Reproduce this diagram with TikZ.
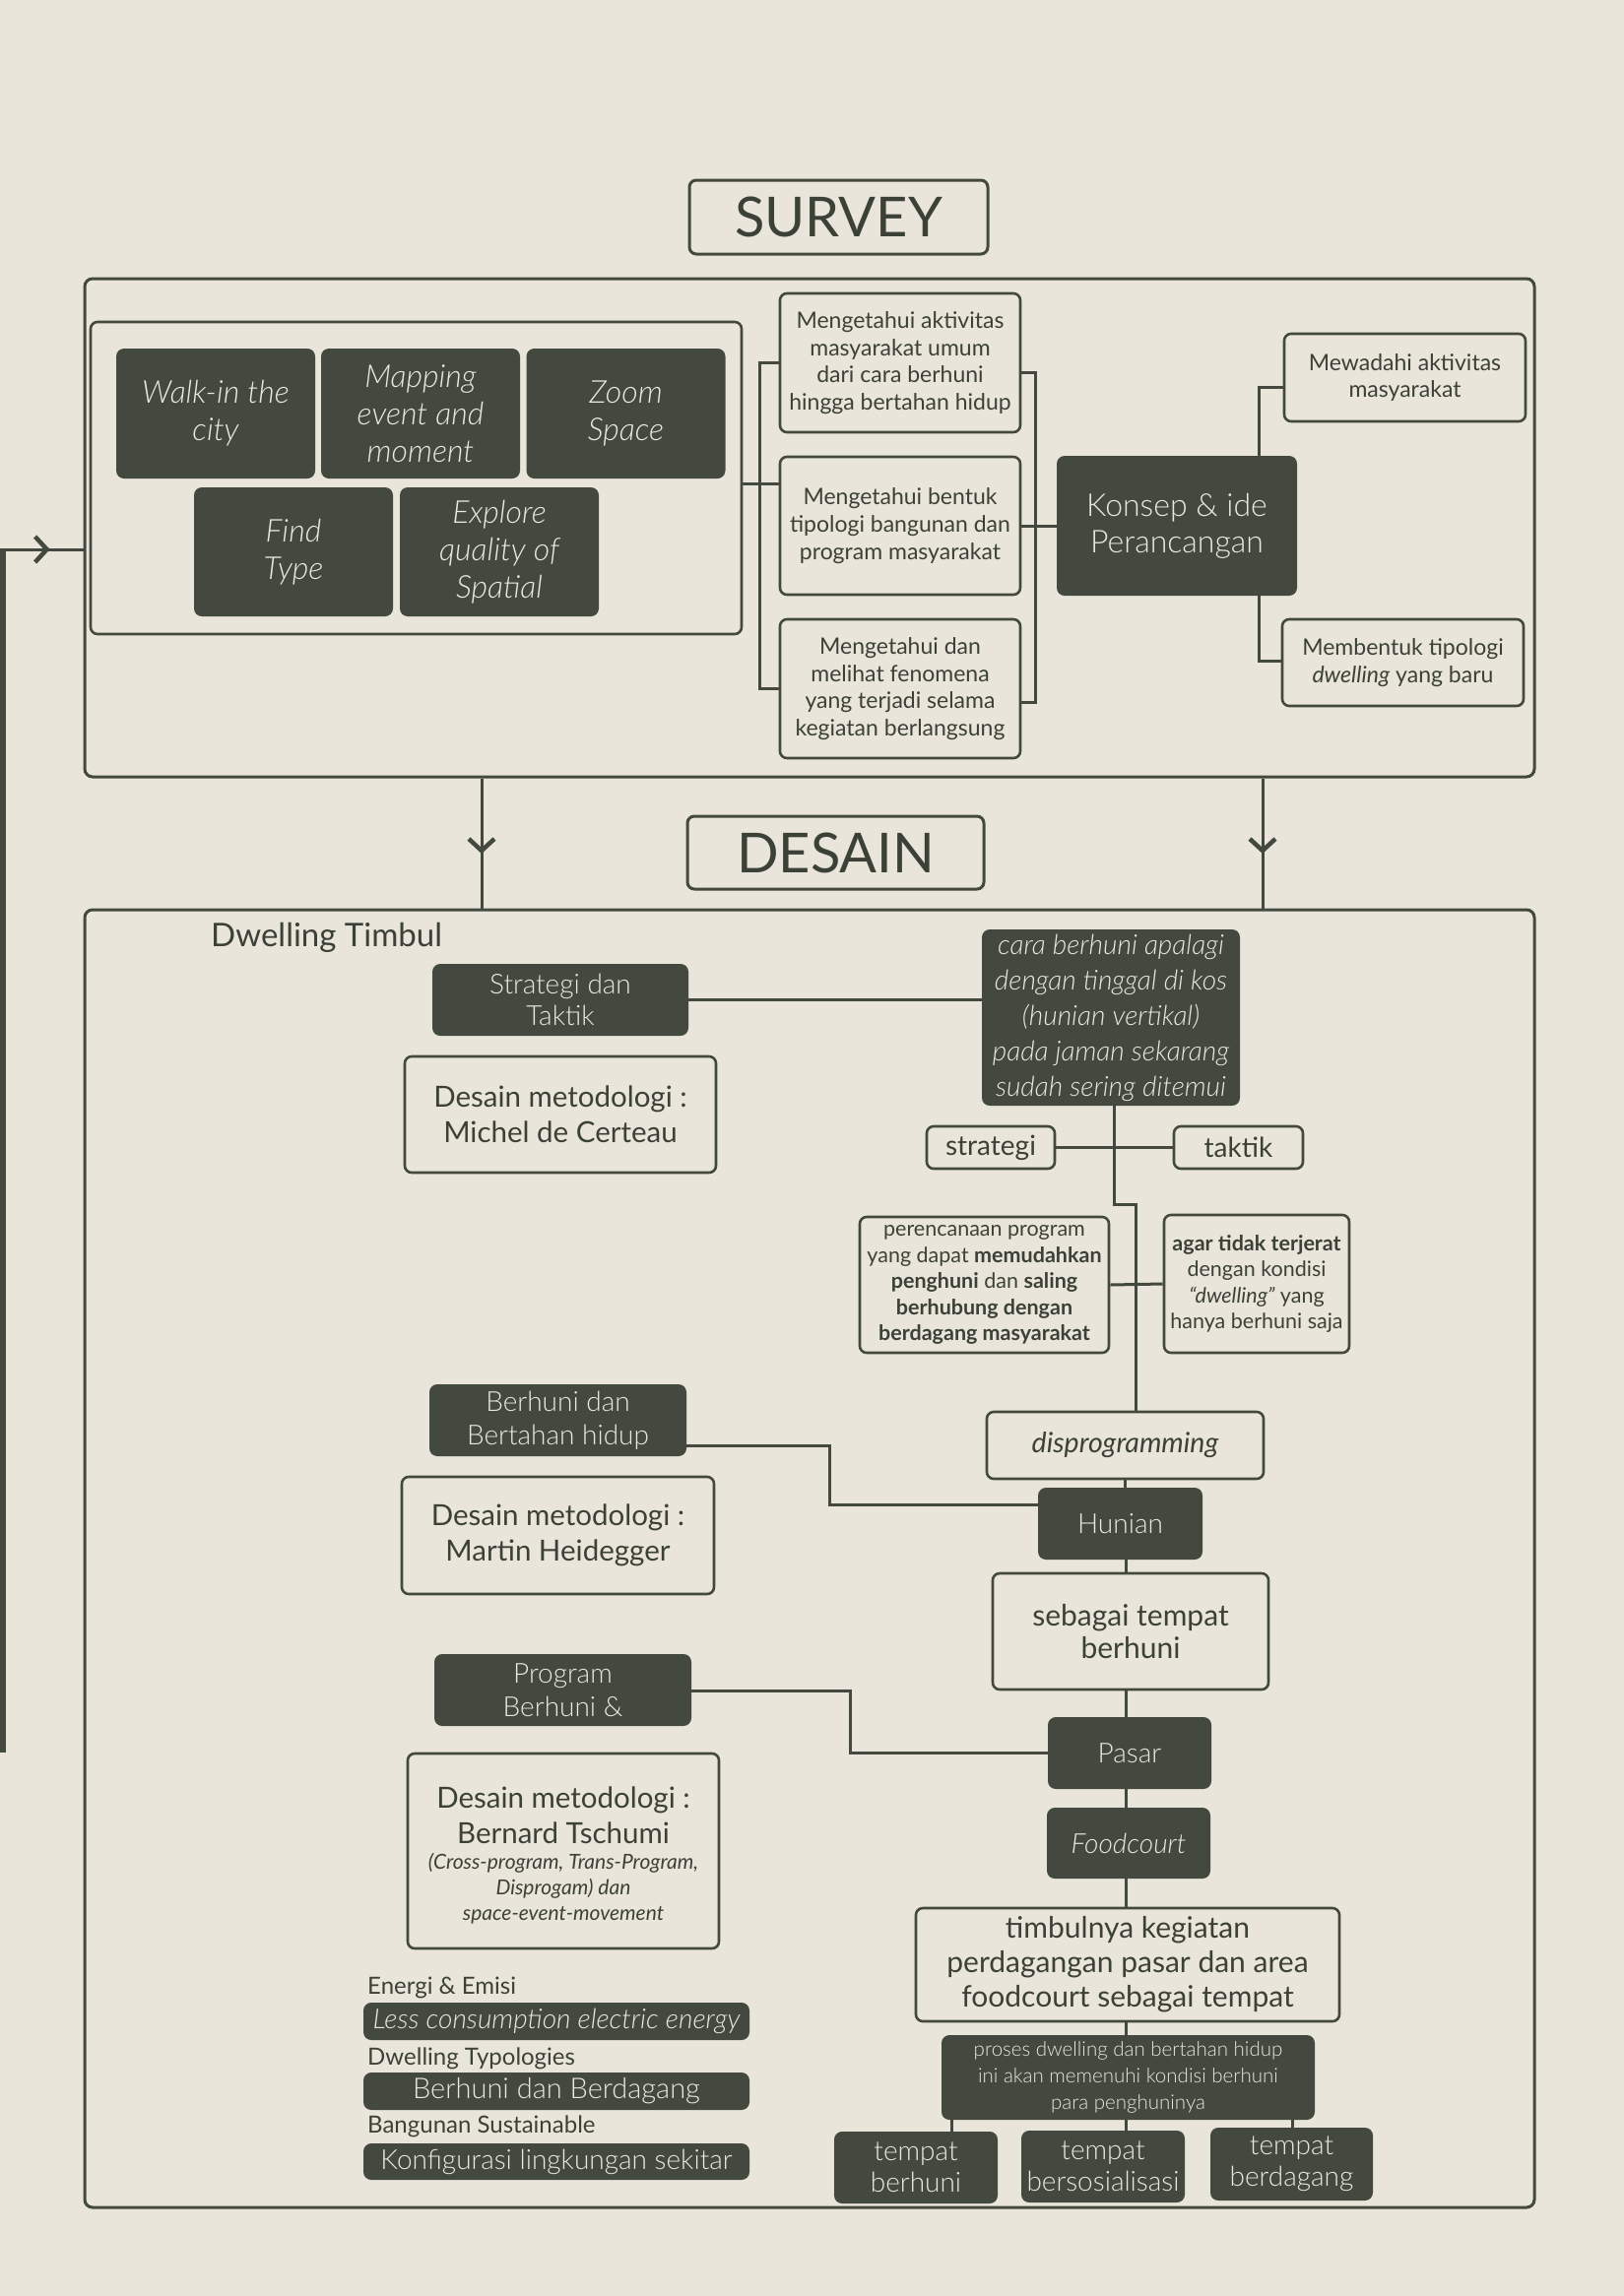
\documentclass[tikz,border=0pt]{standalone}
\usepackage{fontspec}
\setmainfont{Lato}
\newfontfamily\lightf{Lato Light}[ItalicFont={Lato Light Italic}]
\usetikzlibrary{arrows.meta,decorations.markings}
\definecolor{bg}{RGB}{233,229,218}
\definecolor{dk}{RGB}{67,73,62}
\definecolor{tx}{RGB}{60,65,55}
\definecolor{wt}{RGB}{234,232,224}
\newcommand{\fsz}[2]{\fontsize{#1}{#2}\selectfont}
\begin{document}
\begin{tikzpicture}[x=1pt,y=-1pt,
  sz/.style 2 args={minimum width=#1pt, minimum height=#2pt},
  dbox/.style={fill=dk, rounded corners=8pt, text=wt, inner sep=0pt, align=center},
  obox/.style={draw=dk, line width=2.6pt, rounded corners=7pt, text=tx, inner sep=0pt, align=center},
  frame/.style={draw=dk, line width=3pt, rounded corners=8pt, inner sep=0pt},
  ln/.style={draw=dk, line width=3pt},
  midarrow/.style={postaction={decorate}, decoration={markings, mark=at position #1 with {\arrow{Straight Barb[length=12pt,width=26pt,line width=4.5pt]}}}},
  sv/.style={dbox, sz={202}{132}, font=\lightf\itshape\fsz{32}{38}},
  mid/.style={obox, sz={244}{141}, font=\fsz{23}{27.7}},
  metod/.style={font=\fsz{29.5}{36}},
]
\fill[bg] (0,0) rectangle (1649,2332);
\useasboundingbox (0,0) rectangle (1649,2332);

% ---------- frames and titles
\node[frame, sz={1472}{506}] (sbox) at (822,536) {};
\node[frame, sz={1472}{1318}] (dbox) at (822,1583) {};
\node[obox, line width=3pt, sz={303}{75}, font=\fsz{56}{60}] (ttlS) at (851.5,220.5) {SURVEY};
\node[obox, line width=3pt, sz={301}{74}, font=\fsz{56}{60}] (ttlD) at (848.5,866) {DESAIN};

% ---------- survey
\node[obox, sz={661}{317}] (inner) at (422.5,485.5) {};
\node[sv] (walk) at (219,420) {Walk-in the\\city};
\node[sv] (map) at (427,420) {Mapping\\event and\\moment};
\node[sv] (zoom) at (635.5,420) {Zoom\\Space};
\node[sv, sz={202}{131}] (find) at (298,560.5) {Find\\Type};
\node[sv, sz={202}{131}] (expl) at (507,560.5) {Explore\\quality of\\Spatial};

\node[mid] (mA) at (914,368.5) {Mengetahui aktivitas\\masyarakat umum\\dari cara berhuni\\hingga bertahan hidup};
\node[mid, sz={244}{140}] (mB) at (914,534) {Mengetahui bentuk\\tipologi bangunan dan\\program masyarakat};
\node[mid] (mC) at (914,699.5) {Mengetahui dan\\melihat fenomena\\yang terjadi selama\\kegiatan berlangsung};
\node[dbox, sz={244}{142}, font=\lightf\fsz{32}{37}] (konsep) at (1195,534) {Konsep \& ide\\Perancangan};
\node[obox, sz={245}{89}, font=\fsz{23}{27.7}] (mew) at (1426.5,383.5) {Mewadahi aktivitas\\masyarakat};
\node[obox, sz={245}{88}, font=\fsz{23}{27.7}] (mem) at (1424.5,673) {Membentuk tipologi\\\textit{dwelling} yang baru};

% survey connectors
\coordinate (bl) at (771,491);
\draw[ln] (mA.west) -| (bl) |- (mC.west);
\draw[ln] (inner.east |- bl) -- (mB.west |- bl);
\coordinate (br1) at (1051,378);
\coordinate (br3) at (1051,713);
\draw[ln] (mA.east |- br1) -- (br1) -- (br3) -- (mC.east |- br3);
\draw[ln] (mB.east) -- (konsep.west);
\coordinate (kc1) at (1278,393);
\coordinate (kc2) at (1278,671);
\draw[ln] (konsep.north -| kc1) -- (kc1) -- (kc1 -| mew.west);
\draw[ln] (konsep.south -| kc2) -- (kc2) -- (kc2 -| mem.west);

% left feedback line and arrows
\coordinate (lt) at (2.75,556.5);
\coordinate (lb) at (2.75,1780);
\draw[dk, line width=5.5pt] (lt) -- (lb);
\coordinate (la) at (0,558);
\draw[ln, midarrow=0.6] (la) -- (la -| sbox.west);
\coordinate (d1) at (489,850);
\coordinate (d2) at (1282,850);
\draw[ln, midarrow=0.58] (sbox.south -| d1) -- (dbox.north -| d1);
\draw[ln, midarrow=0.58] (sbox.south -| d2) -- (dbox.north -| d2);

% ---------- desain
\node[anchor=base west, text=tx, font=\fsz{33}{38}, inner sep=0pt] (dwt) at (214,961) {Dwelling Timbul};
\node[dbox, sz={260}{73}, font=\lightf\fsz{28}{32}] (strat) at (569,1015.5) {Strategi dan\\Taktik};
\node[obox, metod, sz={316}{118}] (michel) at (569,1132) {Desain metodologi :\\Michel de Certeau};
\node[dbox, sz={262}{179}, font=\lightf\itshape\fsz{28}{36}] (cara) at (1128,1033.5) {cara berhuni apalagi\\dengan tinggal di kos\\(hunian vertikal)\\pada jaman sekarang\\sudah sering ditemui};
\node[obox, sz={130}{43}, font=\fsz{28}{30}] (strategi) at (1006,1165.5) {strategi};
\node[obox, sz={131}{43}, font=\fsz{28}{30}] (taktik) at (1257.5,1165.5) {taktik};
\node[obox, sz={253}{138}, font=\fsz{21.5}{26.5}] (peren) at (999.5,1305) {perencanaan program\\yang dapat \textbf{memudahkan}\\\textbf{penghuni} dan \textbf{saling}\\\textbf{berhubung dengan}\\\textbf{berdagang masyarakat}};
\node[obox, sz={188}{140}, font=\fsz{21.5}{26.5}] (agar) at (1276,1304) {\textbf{agar tidak terjerat}\\dengan kondisi\\\textit{“dwelling”} yang\\hanya berhuni saja};
\node[obox, sz={281}{68}, font=\itshape\fsz{28.5}{30}] (disp) at (1142.5,1468) {disprogramming};
\node[dbox, sz={167}{73}, font=\lightf\fsz{28}{30}] (hunian) at (1137.5,1547.5) {Hunian};
\node[obox, sz={280}{118}, font=\fsz{30}{33}] (sebagai) at (1148,1657) {sebagai tempat\\berhuni};
\node[dbox, sz={166}{73}, font=\lightf\fsz{28}{30}] (pasar) at (1147,1780.5) {Pasar};
\node[dbox, sz={166}{72}, font=\lightf\itshape\fsz{28}{30}] (food) at (1146,1872) {Foodcourt};
\node[obox, sz={430}{115}, font=\fsz{30}{35}] (timb) at (1145,1995.5) {timbulnya kegiatan\\perdagangan pasar dan area\\foodcourt sebagai tempat};
\node[dbox, sz={379}{86}, font=\lightf\fsz{20.5}{27}] (proses) at (1145.5,2110) {proses dwelling dan bertahan hidup\\ini akan memenuhi kondisi berhuni\\para penghuninya};
\node[dbox, sz={166}{73}, font=\lightf\fsz{28}{32}] (t1) at (930,2201.5) {tempat\\berhuni};
\node[dbox, sz={166}{73}, font=\lightf\fsz{28}{32}] (t2) at (1120,2200.5) {tempat\\bersosialisasi};
\node[dbox, sz={165}{74}, font=\lightf\fsz{28}{32}] (t3) at (1311.5,2198) {tempat\\berdagang};

\node[dbox, sz={261}{73}, font=\lightf\fsz{28}{34}] (berh) at (566.5,1442.5) {Berhuni dan\\Bertahan hidup};
\node[obox, metod, sz={317}{119}] (martin) at (566.5,1559.5) {Desain metodologi :\\Martin Heidegger};
\node[dbox, sz={261}{73}, font=\lightf\fsz{28}{34}] (prog) at (571.5,1716.5) {Program\\Berhuni \&};
\node[obox, sz={316}{198}] (bern) at (572,1880) {};
\node[text=tx, align=center, inner sep=0pt, metod] (bernA) at (572,1844) {Desain metodologi :\\Bernard Tschumi};
\node[text=tx, align=center, inner sep=0pt, font=\itshape\fsz{21}{26}] (bernB) at (572,1918) {(Cross-program, Trans-Program,\\Disprogam) dan\\space-event-movement};

% legend
\node[anchor=base west, text=tx, inner sep=0pt, font=\fsz{24}{28}] (l1) at (373,2025) {Energi \& Emisi};
\node[dbox, sz={392}{38}, font=\lightf\itshape\fsz{28}{30}] (b1) at (565,2053) {Less consumption electric energy};
\node[anchor=base west, text=tx, inner sep=0pt, font=\fsz{24}{28}] (l2) at (373,2097) {Dwelling Typologies};
\node[dbox, sz={392}{38}, font=\lightf\fsz{29}{30}] (b2) at (565,2124) {Berhuni dan Berdagang};
\node[anchor=base west, text=tx, inner sep=0pt, font=\fsz{24}{28}] (l3) at (373,2166) {Bangunan Sustainable};
\node[dbox, sz={392}{37}, font=\lightf\fsz{28}{30}] (b3) at (565,2195.5) {Konfigurasi lingkungan sekitar};

% desain connectors
\draw[ln] (strat.east) -- (strat.east -| cara.west);
\coordinate (v1) at (1131,1223);
\coordinate (v2) at (1153,1223);
\draw[ln] (cara.south -| v1) -- (v1) -- (v2) -- (disp.north -| v2);
\draw[ln] (strategi.east) -- (taktik.west);
\draw[ln] (peren.east) -- (agar.west);
\draw[ln] (disp.south) -- (disp.south |- hunian.north);
\coordinate (sp) at (1143,1500);
\draw[ln] (hunian.south -| sp) -- (sebagai.north -| sp);
\draw[ln] (sebagai.south -| sp) -- (pasar.north -| sp);
\draw[ln] (pasar.south -| sp) -- (food.north -| sp);
\draw[ln] (food.south -| sp) -- (timb.north -| sp);
\draw[ln] (timb.south -| sp) -- (proses.north -| sp);
\coordinate (tA) at (966,2160);
\coordinate (tC) at (1312,2160);
\draw[ln] (proses.south -| tA) -- (t1.north -| tA);
\draw[ln] (proses.south -| sp) -- (t2.north -| sp);
\draw[ln] (proses.south -| tC) -- (t3.north -| tC);
\coordinate (bj) at (842,1468);
\coordinate (bk) at (842,1528);
\draw[ln] (berh.east |- bj) -- (bj) -- (bk) -- (bk -| hunian.west);
\coordinate (pj) at (863,1717);
\draw[ln] (prog.east |- pj) -- (pj) |- (pasar.west);
\end{tikzpicture}
\end{document}
